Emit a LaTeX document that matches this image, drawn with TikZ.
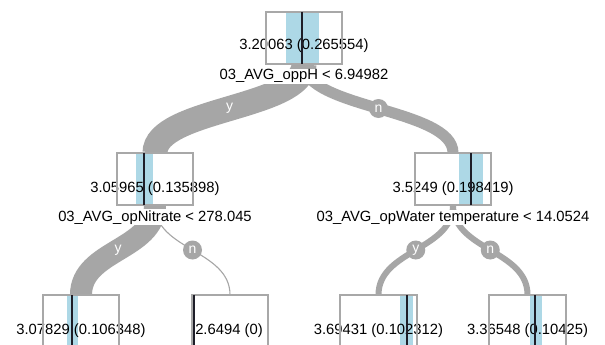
\documentclass[tikz,border=0pt]{standalone}
\usepackage{fontspec}
\setmainfont{Liberation Sans}
\usetikzlibrary{calc}
\pgfdeclarelayer{background}
\pgfsetlayers{background,main}
\definecolor{edgegray}{RGB}{166,166,166}
\definecolor{boxgray}{RGB}{168,168,168}
\definecolor{bandblue}{RGB}{173,216,230}
\definecolor{meanline}{RGB}{30,30,40}
\begin{document}
\begin{tikzpicture}[x=1pt,y=-1pt,
  box/.style={rectangle, minimum width=76pt, minimum height=52pt, inner sep=0pt, fill=white},
  border/.style={draw=boxgray, line width=2.2pt},
  band/.style={fill=bandblue},
  mean/.style={draw=meanline, line width=1.8pt},
  val/.style={anchor=base, inner sep=0pt, font=\fontsize{14.8}{17}\selectfont},
  lab/.style={anchor=base, inner sep=1pt, fill=white, font=\fontsize{14.8}{17}\selectfont},
  edge/.style={draw=edgegray, line cap=butt},
  elab/.style={circle, fill=edgegray, minimum size=19pt, inner sep=0pt, text=white, font=\fontsize{14}{16}\selectfont}]
\useasboundingbox (0,0) rectangle (605,345);

% boxes
\node[box] (r) at (304,38) {};
\node[box] (L) at (155,179) {};
\node[box] (R) at (453,179) {};
\node[box] (b1) at (81,321) {};
\node[box] (b2) at (230,321) {};
\node[box] (b3) at (378.5,321) {};
\node[box] (b4) at (527.5,321) {};

% edges
\coordinate (m1) at ($(r.south)!0.5!(L.north)$);
\coordinate (m2) at ($(r.south)!0.5!(R.north)$);
\coordinate (m3) at ($(L.south)!0.5!(b1.north)$);
\coordinate (m4) at ($(L.south)!0.5!(b2.north)$);
\coordinate (m5) at ($(R.south)!0.5!(b3.north)$);
\coordinate (m6) at ($(R.south)!0.5!(b4.north)$);
\begin{pgfonlayer}{background}
\fill[white] (0,0) rectangle (605,345);
\draw[edge, line width=25pt] (r.south) .. controls (r.south |- m1) and (L.north |- m1) .. (L.north) node[elab, pos=0.5] (e1) {y};
\draw[edge, line width=11pt] (r.south) .. controls (r.south |- m2) and (R.north |- m2) .. (R.north) node[elab, pos=0.5] (e2) {n};
\draw[edge, line width=22pt] (L.south) .. controls (L.south |- m3) and (b1.north |- m3) .. (b1.north) node[elab, pos=0.5] (e3) {y};
\draw[edge, line width=1.1pt] (L.south) .. controls (L.south |- m4) and (b2.north |- m4) .. (b2.north) node[elab, pos=0.5] (e4) {n};
\draw[edge, line width=6pt] (R.south) .. controls (R.south |- m5) and (b3.north |- m5) .. (b3.north) node[elab, pos=0.5] (e5) {y};
\draw[edge, line width=6pt] (R.south) .. controls (R.south |- m6) and (b4.north |- m6) .. (b4.north) node[elab, pos=0.5] (e6) {n};
\end{pgfonlayer}

% spread bands
\fill[band] (286,12) rectangle (319,64);
\fill[band] (136,153) rectangle (153,205);
\fill[band] (459,153) rectangle (483,205);
\fill[band] (67,295) rectangle (78,347);
\fill[band] (400,295) rectangle (413,347);
\fill[band] (530,295) rectangle (542,347);

% values
\node[val] (rv) at (304,50) {3.20063 (0.265554)};
\node[val] (Lv) at (155,192) {3.05965 (0.135898)};
\node[val] (Rv) at (453,192) {3.5249 (0.198419)};
\node[val] (b1v) at (81,334) {3.07829 (0.106348)};
\node[val] (b2v) at (229,334) {2.6494 (0)};
\node[val] (b3v) at (378.5,334) {3.69431 (0.102312)};
\node[val] (b4v) at (527.5,334) {3.36548 (0.10425)};

% split labels
\node[lab] (rl) at (304,80) {03\_AVG\_oppH < 6.94982};
\node[lab] (Ll) at (155,221) {03\_AVG\_opNitrate < 278.045};
\node[lab] (Rl) at (453,221) {03\_AVG\_opWater temperature < 14.0524};

% borders and mean lines
\foreach \n in {r,L,R,b1,b2,b3,b4} {
  \draw[border] (\n.north west) rectangle (\n.south east);
}
\draw[mean] (302,12) -- (302,64);
\draw[mean] (144,153) -- (144,205);
\draw[mean] (471,153) -- (471,205);
\draw[mean] (72,295) -- (72,347);
\draw[mean] (194,295) -- (194,347);
\draw[mean] (407,295) -- (407,347);
\draw[mean] (535,295) -- (535,347);
\end{tikzpicture}
\end{document}
